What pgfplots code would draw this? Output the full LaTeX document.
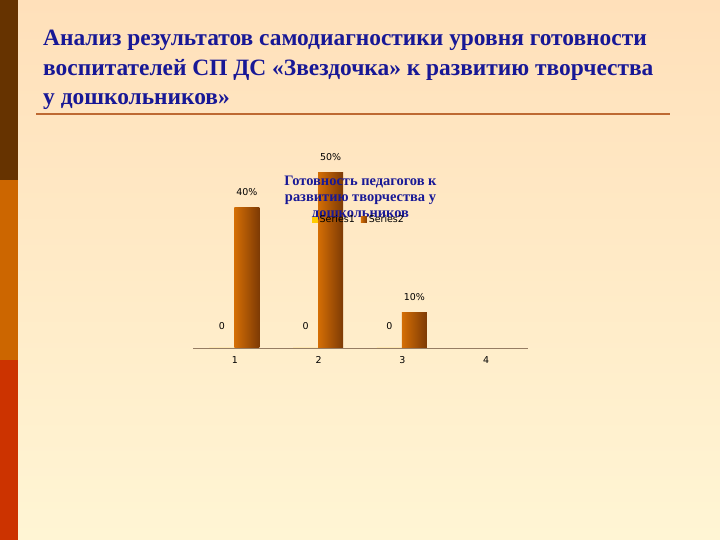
\documentclass[border=0pt]{standalone}
\usepackage{pgfplots}
\pgfplotsset{compat=1.18}
\usepackage{fontspec}
\setmainfont{Liberation Serif}
\newfontfamily\labfont{DejaVu Sans}
\definecolor{bgtop}{RGB}{255,224,186}
\definecolor{bgbot}{RGB}{255,245,212}
\definecolor{stripeA}{RGB}{102,51,0}
\definecolor{stripeB}{RGB}{204,102,0}
\definecolor{stripeC}{RGB}{204,51,0}
\definecolor{titleblue}{RGB}{24,24,150}
\definecolor{ruleline}{RGB}{190,105,50}
\definecolor{barL}{RGB}{212,110,5}
\definecolor{barR}{RGB}{125,58,5}
\definecolor{serA}{RGB}{255,204,0}
\definecolor{axisgray}{RGB}{150,125,100}
\begin{document}
\begin{tikzpicture}[x=1bp,y=1bp]
% background
\shade[top color=bgtop, bottom color=bgbot] (0,0) rectangle (720,540);
\fill[stripeA] (0,360) rectangle (18,540);
\fill[stripeB] (0,180) rectangle (18,360);
\fill[stripeC] (0,0) rectangle (18,180);
% slide title
\node[anchor=north west, inner sep=0pt, align=left, text=titleblue,
      font=\fontsize{23.5}{29.5}\selectfont\bfseries] at (43bp,510bp)
  {Анализ результатов самодиагностики уровня готовности\\
   воспитателей СП ДС «Звездочка» к развитию творчества\\
   у дошкольников»};
\draw[ruleline, line width=2bp] (36bp,426bp) -- (670bp,426bp);
% chart
\begin{axis}[
  at={(193bp,192bp)}, anchor=south west,
  scale only axis, width=335bp, height=175bp,
  xmin=0.5, xmax=4.5, ymin=0, ymax=50,
  axis x line*=bottom, axis y line=none,
  x axis line style={axisgray, line width=0.8bp},
  xtick={1,2,3,4}, major tick length=0pt,
  /pgf/number format/assume math mode=true,
  xticklabel style={font=\labfont\fontsize{9.5}{11}\selectfont, yshift=-5bp},
  ybar, bar width=25bp,
  clip=false,
  title={Готовность педагогов к\\развитию творчества у\\дошкольников},
  title style={at={(0.5,0.821)}, anchor=center, align=center, text=titleblue,
    font=\fontsize{14.5}{16}\selectfont\bfseries},
  legend style={at={(0.495,0.732)}, anchor=center, draw=none, fill=none,
    font=\labfont\fontsize{9.5}{11}\selectfont, legend columns=2,
    inner sep=0pt,
    /tikz/every odd column/.append style={column sep=0bp},
    /tikz/every even column/.append style={column sep=4bp}},
  legend image code/.code={\fill[#1] (0bp,-3bp) rectangle (6bp,3bp);},
  nodes near coords, point meta=explicit symbolic,
  every node near coord/.append style={font=\labfont\fontsize{9.5}{11}\selectfont},
]
\addplot[draw=none, fill=serA, bar shift=-13bp,
  every node near coord/.append style={yshift=15bp}]
  coordinates {(1,0) [0] (2,0) [0] (3,0) [0]};
\addlegendentry{Series1}
\addplot[draw=none, left color=barL, right color=barR, bar shift=12bp,
  every node near coord/.append style={yshift=8.5bp}]
  coordinates {(1,40) [40\%]};
\addlegendentry{Series2}
\addplot[draw=none, left color=barL, right color=barR, bar shift=12bp, forget plot,
  every node near coord/.append style={yshift=8.5bp}]
  coordinates {(2,50) [50\%]};
\addplot[draw=none, left color=barL, right color=barR, bar shift=12bp, forget plot,
  every node near coord/.append style={yshift=8.5bp}]
  coordinates {(3,10) [10\%]};
\end{axis}
\end{tikzpicture}
\end{document}
